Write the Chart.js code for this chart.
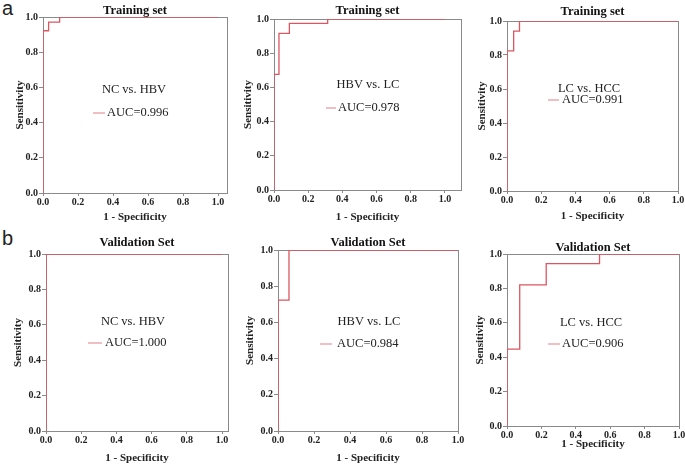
<!DOCTYPE html>
<html><head><meta charset="utf-8">
<script src="https://cdn.jsdelivr.net/npm/chart.js@4.4.1/dist/chart.umd.min.js"></script>
<style>
html,body{margin:0;padding:0;background:#fff;}
#wrap{position:relative;width:685px;height:466px;overflow:hidden;background:#fff;}
#wrap canvas{position:absolute;left:0;top:0;}
.tag{position:absolute;font-family:'Liberation Sans',Arial,sans-serif;font-size:20px;color:#222;line-height:1;}
</style></head><body>
<div id="wrap">
<div class="tag" style="left:2px;top:-2px">a</div>
<div class="tag" style="left:2px;top:228px">b</div>
</div>
<script>
// ---- data ----
const panelTitles = ['Training set','Training set','Training set','Validation Set','Validation Set','Validation Set'];
const comparisons = ['NC vs. HBV','HBV vs. LC','LC vs. HCC','NC vs. HBV','HBV vs. LC','LC vs. HCC'];
const aucValues = ['0.996','0.978','0.991','1.000','0.984','0.906'];
const axisTicks = [0.0, 0.2, 0.4, 0.6, 0.8, 1.0];
// ROC corner points: 1 - specificity (fpr) and sensitivity (tpr)
const trainNcHbvFpr = [0, 0, 0.032, 0.095, 1.0];
const trainNcHbvTpr = [0, 0.922, 0.971, 1.0, 1.0];
const trainHbvLcFpr = [0, 0, 0.029, 0.090, 0.314, 1.0];
const trainHbvLcTpr = [0, 0.676, 0.916, 0.975, 1.0, 1.0];
const trainLcHccFpr = [0, 0, 0.039, 0.073, 1.0];
const trainLcHccTpr = [0, 0.824, 0.941, 1.0, 1.0];
const validNcHbvFpr = [0, 0, 1.0];
const validNcHbvTpr = [0, 1.0, 1.0];
const validHbvLcFpr = [0, 0, 0.061, 1.0];
const validHbvLcTpr = [0, 0.723, 1.0, 1.0];
const validLcHccFpr = [0, 0, 0.074, 0.228, 0.538, 1.0];
const validLcHccTpr = [0, 0.447, 0.82, 0.944, 1.0, 1.0];

const curves = [
  [trainNcHbvFpr, trainNcHbvTpr], [trainHbvLcFpr, trainHbvLcTpr], [trainLcHccFpr, trainLcHccTpr],
  [validNcHbvFpr, validNcHbvTpr], [validHbvLcFpr, validHbvLcTpr], [validLcHccFpr, validLcHccTpr]
];

// ---- layout / style (page pixels of each plot frame) ----
const layouts = [
  {L:43,  T:17,  R:227, B:193, xMax:1.051, titleC:11,  yTD:23, xTD:24,   ann:{lx:91,  ly:73, sx0:50, sx1:62, sy:96, tx:64}},
  {L:274, T:19,  R:461, B:190, xMax:1.094, titleC:11,  yTD:26, xTD:27.5, ann:{lx:94,  ly:66, sx0:52, sx1:62, sy:89, tx:64}},
  {L:507, T:21,  R:678, B:191, xMax:1.0,   titleC:12,  yTD:25, xTD:25.5, ann:{lx:82,  ly:68, sx0:41, sx1:52, sy:79, tx:55}},
  {L:46,  T:254, R:228, B:431, xMax:1.034, titleC:243, yTD:28, xTD:27,   ann:{lx:87,  ly:68, sx0:42, sx1:56, sy:89, tx:59}},
  {L:278, T:250, R:458, B:431, xMax:1.0,   titleC:243, yTD:28, xTD:27,   ann:{lx:91,  ly:72, sx0:42, sx1:54, sy:94, tx:59}},
  {L:507, T:254, R:679, B:426, xMax:1.0,   titleC:248, yTD:27, xTD:18,   ann:{lx:84,  ly:69, sx0:41, sx1:53, sy:90, tx:55}}
];

const SERIF = "'Liberation Serif','Times New Roman',serif";
const AXIS_COLOR = '#8a8a8a';
const CURVE_COLOR = '#dc5661';
const TITLE_LH = 12;   // title font size with lineHeight 1
const AXT_LH = 13.2;   // axis title 11px * 1.2

const rocLabel = {
  id: 'rocLabel',
  afterDatasetsDraw(chart, args, o) {
    const {ctx, chartArea: a} = chart;
    ctx.save();
    ctx.font = '12.5px ' + SERIF;
    ctx.fillStyle = '#222';
    ctx.textBaseline = 'middle';
    ctx.textAlign = 'center';
    ctx.fillText(o.group, a.left + o.lx, a.top + o.ly);
    ctx.strokeStyle = '#e8939b';
    ctx.lineWidth = 1.2;
    ctx.beginPath();
    ctx.moveTo(a.left + o.sx0, a.top + o.sy);
    ctx.lineTo(a.left + o.sx1, a.top + o.sy);
    ctx.stroke();
    ctx.textAlign = 'left';
    ctx.fillText('AUC=' + o.auc, a.left + o.tx, a.top + o.sy);
    ctx.restore();
  }
};

const wrap = document.getElementById('wrap');
layouts.forEach((lay, i) => {
  const cv = document.createElement('canvas');
  cv.width = 685; cv.height = 466;
  cv.style.width = '685px'; cv.style.height = '466px';
  wrap.appendChild(cv);
  const W = lay.yTD + AXT_LH / 2;
  const H = lay.xTD + AXT_LH / 2;
  const pb = lay.T - lay.titleC - TITLE_LH / 2;
  const [fpr, tpr] = curves[i];
  const tickFont = {family: SERIF, size: 10, weight: 'bold'};
  const titleFont = {family: SERIF, size: 11, weight: 'bold'};
  new Chart(cv, {
    type: 'line',
    data: {
      datasets: [{
        data: fpr.map((x, k) => ({x: x, y: tpr[k]})),
        borderColor: CURVE_COLOR,
        borderWidth: 1.3,
        pointRadius: 0,
        fill: false,
        stepped: 'before',
        tension: 0
      }]
    },
    options: {
      responsive: false,
      animation: false,
      events: [],
      layout: {padding: {left: lay.L - W, top: lay.titleC - TITLE_LH / 2, right: 685 - lay.R, bottom: 466 - lay.B - H}},
      scales: {
        x: {
          type: 'linear', position: 'bottom', min: 0, max: lay.xMax,
          afterBuildTicks: s => { s.ticks = axisTicks.map(v => ({value: v})); },
          afterFit: s => { s.height = H; s.paddingLeft = 0; s.paddingRight = 0; s.paddingTop = 0; s.paddingBottom = 0; },
          ticks: {callback: v => Number(v).toFixed(1), font: tickFont, color: '#222', padding: 0, maxRotation: 0, autoSkip: false},
          grid: {display: true, drawOnChartArea: false, drawTicks: true, tickLength: 3, color: AXIS_COLOR, tickColor: AXIS_COLOR},
          border: {display: true, color: AXIS_COLOR, width: 1},
          title: {display: true, text: '1 - Specificity', font: titleFont, color: '#222', padding: 0}
        },
        y: {
          type: 'linear', position: 'left', min: 0, max: 1,
          afterBuildTicks: s => { s.ticks = axisTicks.map(v => ({value: v})); },
          afterFit: s => { s.width = W; s.paddingLeft = 0; s.paddingRight = 0; s.paddingTop = 0; s.paddingBottom = 0; },
          ticks: {callback: v => Number(v).toFixed(1), font: tickFont, color: '#222', padding: 1, autoSkip: false},
          grid: {display: true, drawOnChartArea: false, drawTicks: true, tickLength: 4, color: AXIS_COLOR, tickColor: AXIS_COLOR},
          border: {display: true, color: AXIS_COLOR, width: 1},
          title: {display: true, text: 'Sensitivity', font: titleFont, color: '#222', padding: 0}
        },
        x2: {
          type: 'linear', position: 'top', min: 0, max: lay.xMax,
          afterFit: s => { s.height = 0; s.paddingLeft = 0; s.paddingRight = 0; },
          ticks: {display: false},
          grid: {display: false},
          border: {display: true, color: AXIS_COLOR, width: 1}
        },
        y2: {
          type: 'linear', position: 'right', min: 0, max: 1,
          afterFit: s => { s.width = 0; s.paddingTop = 0; s.paddingBottom = 0; },
          ticks: {display: false},
          grid: {display: false},
          border: {display: true, color: AXIS_COLOR, width: 1}
        }
      },
      plugins: {
        legend: {display: false},
        tooltip: {enabled: false},
        title: {display: true, text: panelTitles[i], fullSize: false, color: '#111',
                font: {family: SERIF, size: 12.5, weight: 'bold', lineHeight: TITLE_LH / 12.5},
                padding: {top: 0, bottom: pb}},
        rocLabel: {group: comparisons[i], auc: aucValues[i], ...lay.ann}
      }
    },
    plugins: [rocLabel]
  });
});
</script>
</body></html>
